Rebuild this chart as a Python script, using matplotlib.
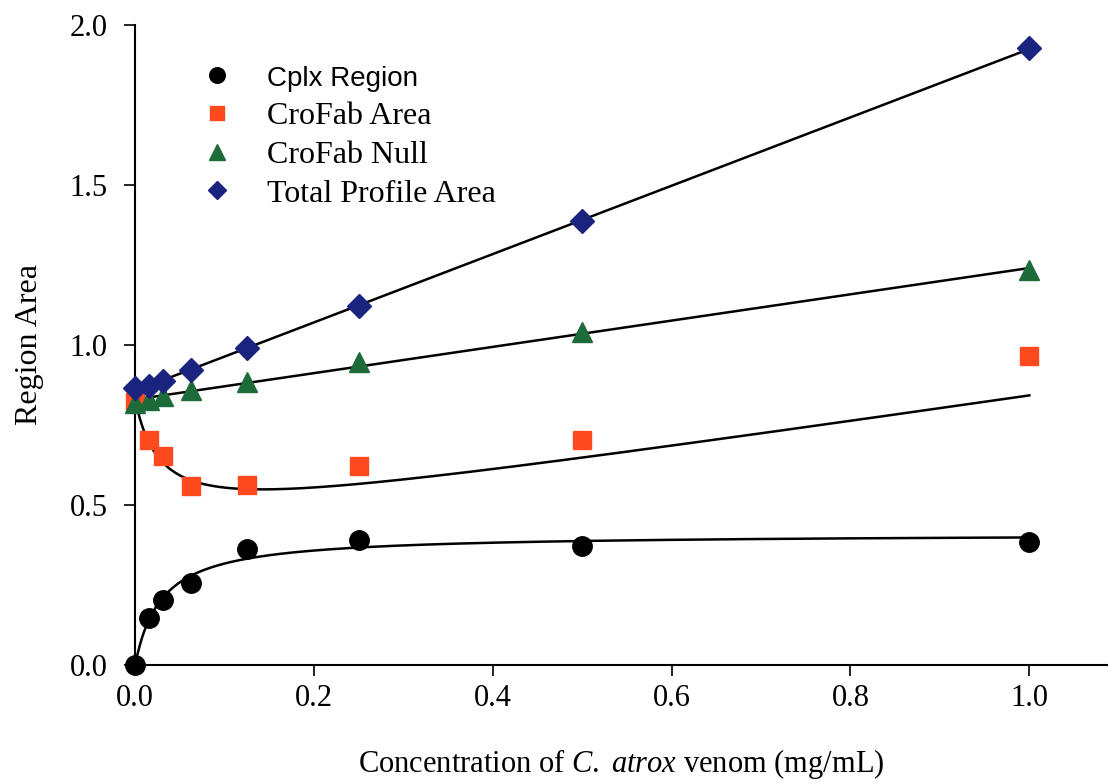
import matplotlib
matplotlib.use('Agg')

import matplotlib.pyplot as plt
import numpy as np

# venom concentration (mg/mL), two-fold dilutions
conc = [0.0, 0.015625, 0.03125, 0.0625, 0.125, 0.25, 0.5, 1.0]

cplx_region = [0.0, 0.147, 0.203, 0.256, 0.363, 0.390, 0.372, 0.384]
crofab_area = [0.822, 0.703, 0.653, 0.559, 0.563, 0.622, 0.703, 0.966]
crofab_null = [0.820, 0.828, 0.840, 0.860, 0.884, 0.947, 1.040, 1.234]
total_area = [0.866, 0.872, 0.888, 0.922, 0.990, 1.122, 1.387, 1.928]

x_ticks = [0.0, 0.2, 0.4, 0.6, 0.8, 1.0]
y_ticks = [0.0, 0.5, 1.0, 1.5, 2.0]

plt.rcParams['font.family'] = ['Liberation Serif', 'DejaVu Serif']
plt.rcParams['mathtext.fontset'] = 'custom'
plt.rcParams['mathtext.rm'] = 'Liberation Serif'
plt.rcParams['mathtext.it'] = 'Liberation Serif:italic'

x = np.array(conc)

# fitted curves: straight lines for null/total, hyperbola for the complex region
p_total = np.polyfit(x, total_area, 1)
p_null = np.polyfit(x, crofab_null, 1)
best = None
for kd in np.linspace(0.005, 0.2, 400):
    basis = x / (kd + x)
    bmax = np.dot(basis, cplx_region) / np.dot(basis, basis)
    err = np.sum((bmax * basis - np.array(cplx_region)) ** 2)
    if best is None or err < best[0]:
        best = (err, kd, bmax)
_, kd, bmax = best

xf = np.linspace(0, 1.0, 400)
fit_total = np.polyval(p_total, xf)
fit_null = np.polyval(p_null, xf)
fit_cplx = bmax * xf / (kd + xf)
fit_area = fit_null - fit_cplx

fig = plt.figure(figsize=(11.08, 7.84), dpi=100)
ax = fig.add_axes([0.122, 0.152, 0.878, 0.816])

for yf in (fit_total, fit_null, fit_area, fit_cplx):
    ax.plot(xf, yf, color='black', lw=1.8, zorder=2)

ax.plot(conc, cplx_region, 'o', color='black', ms=14, ls='none',
        clip_on=False, zorder=3, label='Cplx Region')
ax.plot(conc, crofab_area, 's', color='#ff4a1f', ms=13, ls='none',
        clip_on=False, zorder=3, label='CroFab Area')
ax.plot(conc, crofab_null, '^', color='#1e6b3a', ms=14, ls='none',
        clip_on=False, zorder=3, label='CroFab Null')
ax.plot(conc, total_area, 'D', color='#1a237e', ms=12, ls='none',
        clip_on=False, zorder=3, label='Total Profile Area')

ax.set_xlim(0, 1.088)
ax.set_ylim(0, 2.0)
ax.set_xticks(x_ticks)
ax.set_yticks(y_ticks)
ax.set_xticklabels([f'{v:.1f}' for v in x_ticks], fontsize=22)
ax.set_yticklabels([f'{v:.1f}' for v in y_ticks], fontsize=22)
ax.tick_params(axis='x', direction='out', length=8, width=1.2, pad=6)
ax.tick_params(axis='y', direction='out', length=8, width=1.2, pad=12)
ax.spines['top'].set_visible(False)
ax.spines['right'].set_visible(False)
ax.spines['left'].set_linewidth(1.5)
ax.spines['bottom'].set_linewidth(1.5)

ax.set_ylabel('Region Area', fontsize=23, labelpad=18)
ax.set_xlabel(r'Concentration of $\mathit{C.\ atrox}$ venom (mg/mL)',
              fontsize=22, labelpad=24)

leg = ax.legend(loc='upper left', bbox_to_anchor=(0.03, 0.985), frameon=False,
                fontsize=23, handletextpad=0.8, labelspacing=0.3,
                markerscale=0.8, handlelength=1.5)
for txt in leg.get_texts():
    if txt.get_text() == 'Cplx Region':
        txt.set_family(['Liberation Sans', 'DejaVu Sans'])
        txt.set_fontsize(20)

fig.savefig('out.png', dpi=100)
plt.close(fig)
